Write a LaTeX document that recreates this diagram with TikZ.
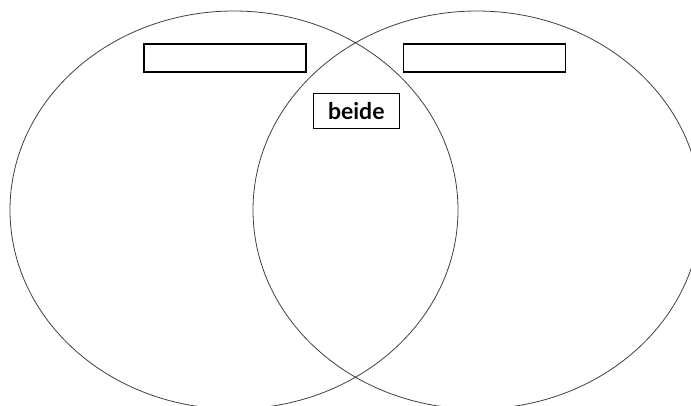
\documentclass[tikz,border=0pt]{standalone}
\usepackage{fontspec}
\setmainfont{Lato}
\begin{document}
\begin{tikzpicture}[x=1pt,y=-1pt,
  ring/.style={draw=black!75,line width=0.8pt},
  labelbox/.style={draw=black,line width=1.3pt,fill=white,inner sep=0pt},
  tagtext/.style={font=\bfseries\fontsize{23}{26}\selectfont}]
  \useasboundingbox (0,0) rectangle (691,405);
  \clip (0,0) rectangle (691,405);
  % the two overlapping sets
  \draw[ring] (234,210) ellipse [x radius=224, y radius=199];
  \draw[ring] (477,210) ellipse [x radius=224, y radius=199];
  % empty title fields of the sets
  \node[labelbox,minimum width=162pt,minimum height=28pt] (leftname) at (225,58) {};
  \node[labelbox,minimum width=162pt,minimum height=28pt] (rightname) at (484.5,58) {};
  % label of the overlap
  \node[labelbox,minimum width=86pt,minimum height=35pt,tagtext] (both) at (356.3,110.8) {beide};
\end{tikzpicture}
\end{document}
